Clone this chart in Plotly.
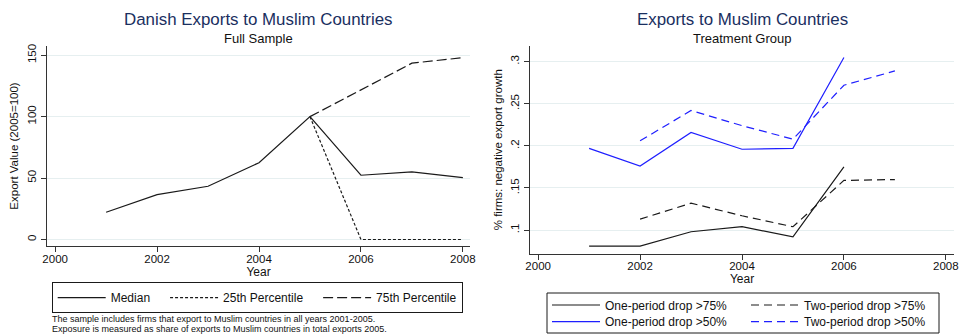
import plotly.graph_objects as go

W, H = 960, 335

# ---- data: full sample export index (2005 = 100) ----
years_full = [2001, 2002, 2003, 2004, 2005, 2006, 2007, 2008]
median_vals = [22.2, 36.5, 43.3, 62.5, 100, 52.3, 55.1, 50.4]
p25_years = [2005, 2006, 2007, 2008]
p25_vals = [100, 0, 0, 0]
p75_years = [2005, 2006, 2007, 2008]
p75_vals = [100, 122, 143.5, 148]

# ---- data: share of treatment firms with negative export growth ----
years_one = [2001, 2002, 2003, 2004, 2005, 2006]
one_drop75 = [0.081, 0.081, 0.098, 0.104, 0.092, 0.175]
one_drop50 = [0.197, 0.176, 0.216, 0.196, 0.197, 0.305]
years_two = [2002, 2003, 2004, 2005, 2006, 2007]
two_drop75 = [0.113, 0.132, 0.117, 0.104, 0.159, 0.160]
two_drop50 = [0.206, 0.242, 0.224, 0.208, 0.272, 0.289]

x_ticks = [2000, 2002, 2004, 2006, 2008]
left_y_ticks = [0, 50, 100, 150]
right_y_ticks = [0.1, 0.15, 0.2, 0.25, 0.3]
right_y_labels = [".1", ".15", ".2", ".25", ".3"]

FONT = "Liberation Sans, Arial, sans-serif"
NAVY = "#1a2f5f"
GRID = "#e6eff0"
AXIS = "#333333"
BLACK = "#1a1a1a"
BLUE = "#1f1fff"
PAD = "\u00a0\u00a0\u00a0"  # extra room after a legend label


def px_x(p):
    return p / W


def px_y(p):
    return 1 - p / H


fig = go.Figure()

lw = 1.2
fig.add_trace(go.Scatter(x=years_full, y=median_vals, mode="lines", name="Median" + PAD,
                         line=dict(color=BLACK, width=lw), xaxis="x", yaxis="y",
                         legend="legend"))
fig.add_trace(go.Scatter(x=p25_years, y=p25_vals, mode="lines",
                         name="25th Percentile" + PAD,
                         line=dict(color=BLACK, width=lw, dash="3px,2px"),
                         xaxis="x", yaxis="y", legend="legend"))
fig.add_trace(go.Scatter(x=p75_years, y=p75_vals, mode="lines", name="75th Percentile",
                         line=dict(color=BLACK, width=lw, dash="10px,4px"),
                         xaxis="x", yaxis="y", legend="legend"))

fig.add_trace(go.Scatter(x=years_one, y=one_drop75, mode="lines", name="One-period drop >75%",
                         line=dict(color=BLACK, width=lw), xaxis="x2", yaxis="y2",
                         legend="legend2"))
fig.add_trace(go.Scatter(x=years_two, y=two_drop75, mode="lines", name="Two-period drop >75%",
                         line=dict(color=BLACK, width=lw, dash="8px,5px"),
                         xaxis="x2", yaxis="y2", legend="legend2"))
fig.add_trace(go.Scatter(x=years_one, y=one_drop50, mode="lines", name="One-period drop >50%",
                         line=dict(color=BLUE, width=lw), xaxis="x2", yaxis="y2",
                         legend="legend3"))
fig.add_trace(go.Scatter(x=years_two, y=two_drop50, mode="lines", name="Two-period drop >50%",
                         line=dict(color=BLUE, width=lw, dash="8px,5px"),
                         xaxis="x2", yaxis="y2", legend="legend3"))

axis_common = dict(showline=True, linecolor=AXIS, linewidth=1.2, ticks="outside",
                   ticklen=5, tickcolor=AXIS, tickwidth=1.2, zeroline=False,
                   automargin=False, tickfont=dict(size=11.5, color="#111"))

row_legend = dict(orientation="h", xanchor="left", yanchor="middle", borderwidth=0,
                  itemwidth=48, entrywidth=136, entrywidthmode="pixels",
                  font=dict(size=12), bgcolor="rgba(0,0,0,0)", tracegroupgap=0)

fig.update_layout(
    width=W, height=H,
    margin=dict(l=0, r=0, t=0, b=0, autoexpand=False),
    paper_bgcolor="white", plot_bgcolor="white",
    font=dict(family=FONT, color="#111"),
    showlegend=True,
    xaxis=dict(domain=[px_x(47), px_x(470)], range=[1999.84, 2008.14],
               tickvals=x_ticks, showgrid=False, anchor="y", ticklabelstandoff=-3,
               title=dict(text="Year", font=dict(size=12), standoff=3), **axis_common),
    yaxis=dict(domain=[px_y(246), px_y(46)], range=[-5.3, 157.5],
               tickvals=left_y_ticks, tickangle=-90, showgrid=True, gridcolor=GRID,
               gridwidth=1, anchor="x",
               title=dict(text="Export Value (2005=100)", font=dict(size=11.5), standoff=5),
               **axis_common),
    xaxis2=dict(domain=[px_x(530), px_x(954)], range=[1999.84, 2008.16],
                tickvals=x_ticks, showgrid=False, anchor="y2", ticklabelstandoff=-3,
                title=dict(text="Year", font=dict(size=12), standoff=3), **axis_common),
    yaxis2=dict(domain=[px_y(253.5), px_y(46)], range=[0.0722, 0.3186],
                tickvals=right_y_ticks, ticktext=right_y_labels, tickangle=-90,
                showgrid=True, gridcolor=GRID, gridwidth=1, anchor="x2",
                title=dict(text="% firms: negative export growth", font=dict(size=11.5),
                           standoff=4),
                **axis_common),
    legend=dict(orientation="h", x=px_x(51.7), y=px_y(297.7), xanchor="left",
                yanchor="middle", bordercolor=BLACK, borderwidth=1, itemwidth=48,
                font=dict(size=12), bgcolor="white", tracegroupgap=0),
    legend2=dict(x=px_x(547), y=px_y(305), **row_legend),
    legend3=dict(x=px_x(547), y=px_y(321.7), **row_legend),
)

# frame around the two-row legend of the right panel
fig.add_shape(type="rect", xref="paper", yref="paper",
              x0=px_x(547), x1=px_x(939), y0=px_y(333), y1=px_y(293),
              line=dict(color=BLACK, width=1), fillcolor="rgba(0,0,0,0)")

annotations = [
    dict(text="Danish Exports to Muslim Countries", x=px_x(258), y=px_y(20),
         font=dict(size=16.9, color=NAVY)),
    dict(text="Full Sample", x=px_x(258), y=px_y(38.5), font=dict(size=13, color="#111")),
    dict(text="Exports to Muslim Countries", x=px_x(742), y=px_y(20),
         font=dict(size=16.9, color=NAVY)),
    dict(text="Treatment Group", x=px_x(742), y=px_y(38.5), font=dict(size=13, color="#111")),
    dict(text="The sample includes firms that export to Muslim countries in all years 2001-2005.",
         x=px_x(50), y=px_y(319.3), xanchor="left", font=dict(size=9, color="#111")),
    dict(text="Exposure is measured as share of exports to Muslim countries in total exports 2005.",
         x=px_x(50), y=px_y(328.6), xanchor="left", font=dict(size=9, color="#111")),
]
for a in annotations:
    a.setdefault("xanchor", "center")
    a.setdefault("yanchor", "middle")
    fig.add_annotation(xref="paper", yref="paper", showarrow=False, **a)

fig.write_html("out.html")
